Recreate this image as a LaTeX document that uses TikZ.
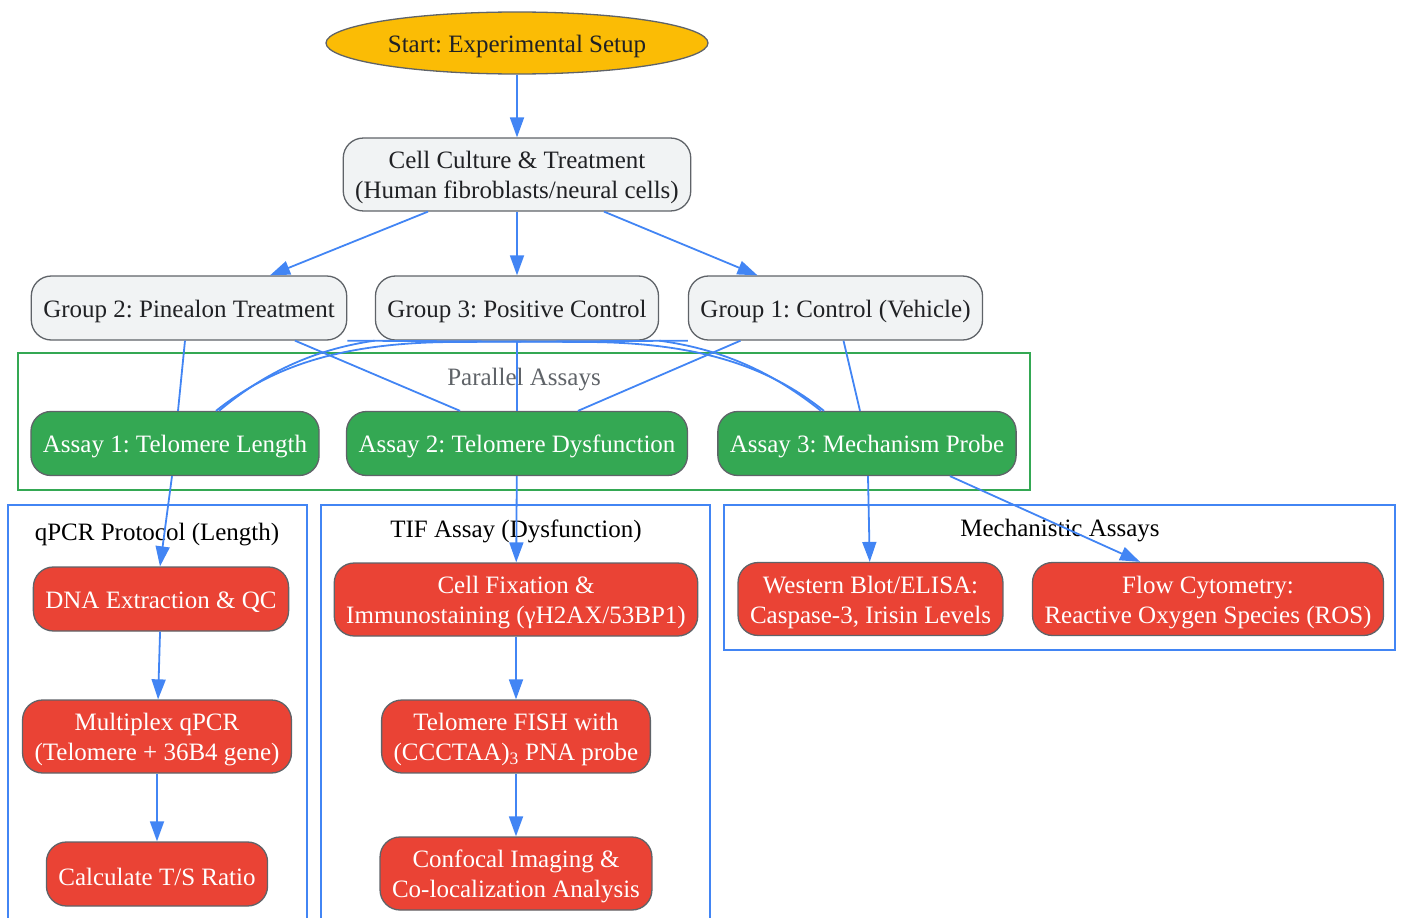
\documentclass[tikz,border=0pt]{standalone}
\usepackage{fontspec}
\setmainfont{Liberation Serif}
\usepackage{tikz}
\usetikzlibrary{arrows.meta,shapes.geometric,calc}
\definecolor{gblue}{HTML}{4285F4}
\definecolor{ggreen}{HTML}{34A853}
\definecolor{gred}{HTML}{EA4335}
\definecolor{gyellow}{HTML}{FBBC05}
\definecolor{ggrey}{HTML}{F1F3F4}
\definecolor{gedge}{HTML}{5F6368}
\definecolor{gtext}{HTML}{202124}
% strut that lowers the first line a little
\newcommand{\lineup}{\rule{0pt}{24pt}}
\tikzset{
  box/.style={draw=gedge,line width=1.3pt,rounded corners=20pt,align=center,
    inner xsep=12pt,inner ysep=6.8pt,minimum height=64pt,
    execute at begin node={\lineup}},
  grp/.style={box,fill=ggrey,text=gtext},
  assay/.style={box,fill=ggreen,text=white},
  stepbox/.style={box,fill=gred,text=white},
  link/.style={gblue,line width=1.8pt,-{Triangle[length=20pt,width=14pt]}},
  tie/.style={gblue,line width=1.8pt},
  cluster/.style={line width=1.5pt}
}

\begin{document}
\begin{tikzpicture}[x=1pt,y=-1pt,font=\fontsize{25}{30}\selectfont\frenchspacing]
    \useasboundingbox (0,0) rectangle (1401,918);

    % clusters
    \draw[cluster,ggreen] (18,353) rectangle (1030,490);
    \draw[cluster,gblue] (8,505) rectangle (307,930);
    \draw[cluster,gblue] (321,505) rectangle (710,930);
    \draw[cluster,gblue] (724,505) rectangle (1395,650);
    \node[text=gedge] (parLabel) at (524,380) {Parallel Assays};
    \node (qpcrLabel) at (157,535) {qPCR Protocol (Length)};
    \node (tifLabel) at (516,531) {TIF Assay (Dysfunction)};
    \node (mechLabel) at (1060,531) {Mechanistic Assays};

    % setup
    \node[ellipse,draw=gedge,line width=1.3pt,fill=gyellow,text=gtext,
      minimum width=382pt,minimum height=62pt,inner sep=0pt,
      execute at begin node={\lineup}] (start) at (517,43) {Start: Experimental Setup};
    \node[grp] (culture) at (517,174.5) {\lineup Cell Culture \& Treatment\\(Human fibroblasts/neural cells)};
    \node[grp] (grpTwo) at (189,308) {Group 2: Pinealon Treatment};
    \node[grp] (grpThree) at (517,308) {Group 3: Positive Control};
    \node[grp] (grpOne) at (835.5,308) {Group 1: Control (Vehicle)};

    % assays
    \node[assay] (asyOne) at (175,443.5) {Assay 1: Telomere Length};
    \node[assay] (asyTwo) at (517,443.5) {Assay 2: Telomere Dysfunction};
    \node[assay] (asyThree) at (867,443.5) {Assay 3: Mechanism Probe};

    % protocol steps
    \node[stepbox] (dna) at (161,599) {DNA Extraction \& QC};
    \node[stepbox] (mqpcr) at (157,736.5) {\lineup Multiplex qPCR\\(Telomere + 36B4 gene)};
    \node[stepbox] (tsratio) at (157,874) {Calculate T/S Ratio};
    \node[stepbox] (fix) at (516,599.5) {\lineup Cell Fixation \&\\Immunostaining (γH2AX/53BP1)};
    \node[stepbox] (fish) at (516,736.5) {\lineup Telomere FISH with\\(CCCTAA)\textsubscript{3} PNA probe};
    \node[stepbox] (confocal) at (516,873.5) {\lineup Confocal Imaging \&\\Co-localization Analysis};
    \node[stepbox] (western) at (870.5,599) {\lineup Western Blot/ELISA:\\Caspase-3, Irisin Levels};
    \node[stepbox] (flow) at (1208,599) {\lineup Flow Cytometry:\\Reactive Oxygen Species (ROS)};

    % arrows
    \draw[link] (start) -- (culture);
    \draw[link] ([xshift=-89pt]culture.south) -- ([xshift=81pt]grpTwo.north);
    \draw[link] (culture) -- (grpThree);
    \draw[link] ([xshift=87pt]culture.south) -- ([xshift=-78pt]grpOne.north);

    % every group feeds every assay
    \draw[tie] ([xshift=-4pt]grpTwo.south) -- ([xshift=3pt]asyOne.north);
    \draw[tie] ([xshift=106pt]grpTwo.south) -- ([xshift=-57pt]asyTwo.north);
    \draw[tie] (grpTwo.south east) -- (590,342) .. controls (710,343) and (775,372) .. ([xshift=-43pt]asyThree.north);
    \draw[tie] (grpThree.south west) .. controls (310,350) and (262,375) .. ([xshift=44pt]asyOne.north);
    \draw[tie] (grpThree) -- (asyTwo);
    \draw[tie] (grpThree.south east) .. controls (727,350) and (776,375) .. ([xshift=-46pt]asyThree.north);
    \draw[tie] (grpOne.south west) -- (450,342) .. controls (330,343) and (265,372) .. ([xshift=41pt]asyOne.north);
    \draw[tie] ([xshift=-95pt]grpOne.south) -- ([xshift=61pt]asyTwo.north);
    \draw[tie] ([xshift=8pt]grpOne.south) -- ([xshift=-7pt]asyThree.north);

    \draw[link] ([xshift=-3pt]asyOne.south) -- ([xshift=-1pt]dna.north);
    \draw[link] (asyTwo) -- (fix);
    \draw[link] ([xshift=1pt]asyThree.south) -- (western);
    \draw[link] ([xshift=83pt]asyThree.south) -- ([xshift=-68pt]flow.north);

    \draw[link] (dna) -- (mqpcr);
    \draw[link] (mqpcr) -- (tsratio);
    \draw[link] (fix) -- (fish);
    \draw[link] (fish) -- (confocal);
  \end{tikzpicture}
\end{document}
